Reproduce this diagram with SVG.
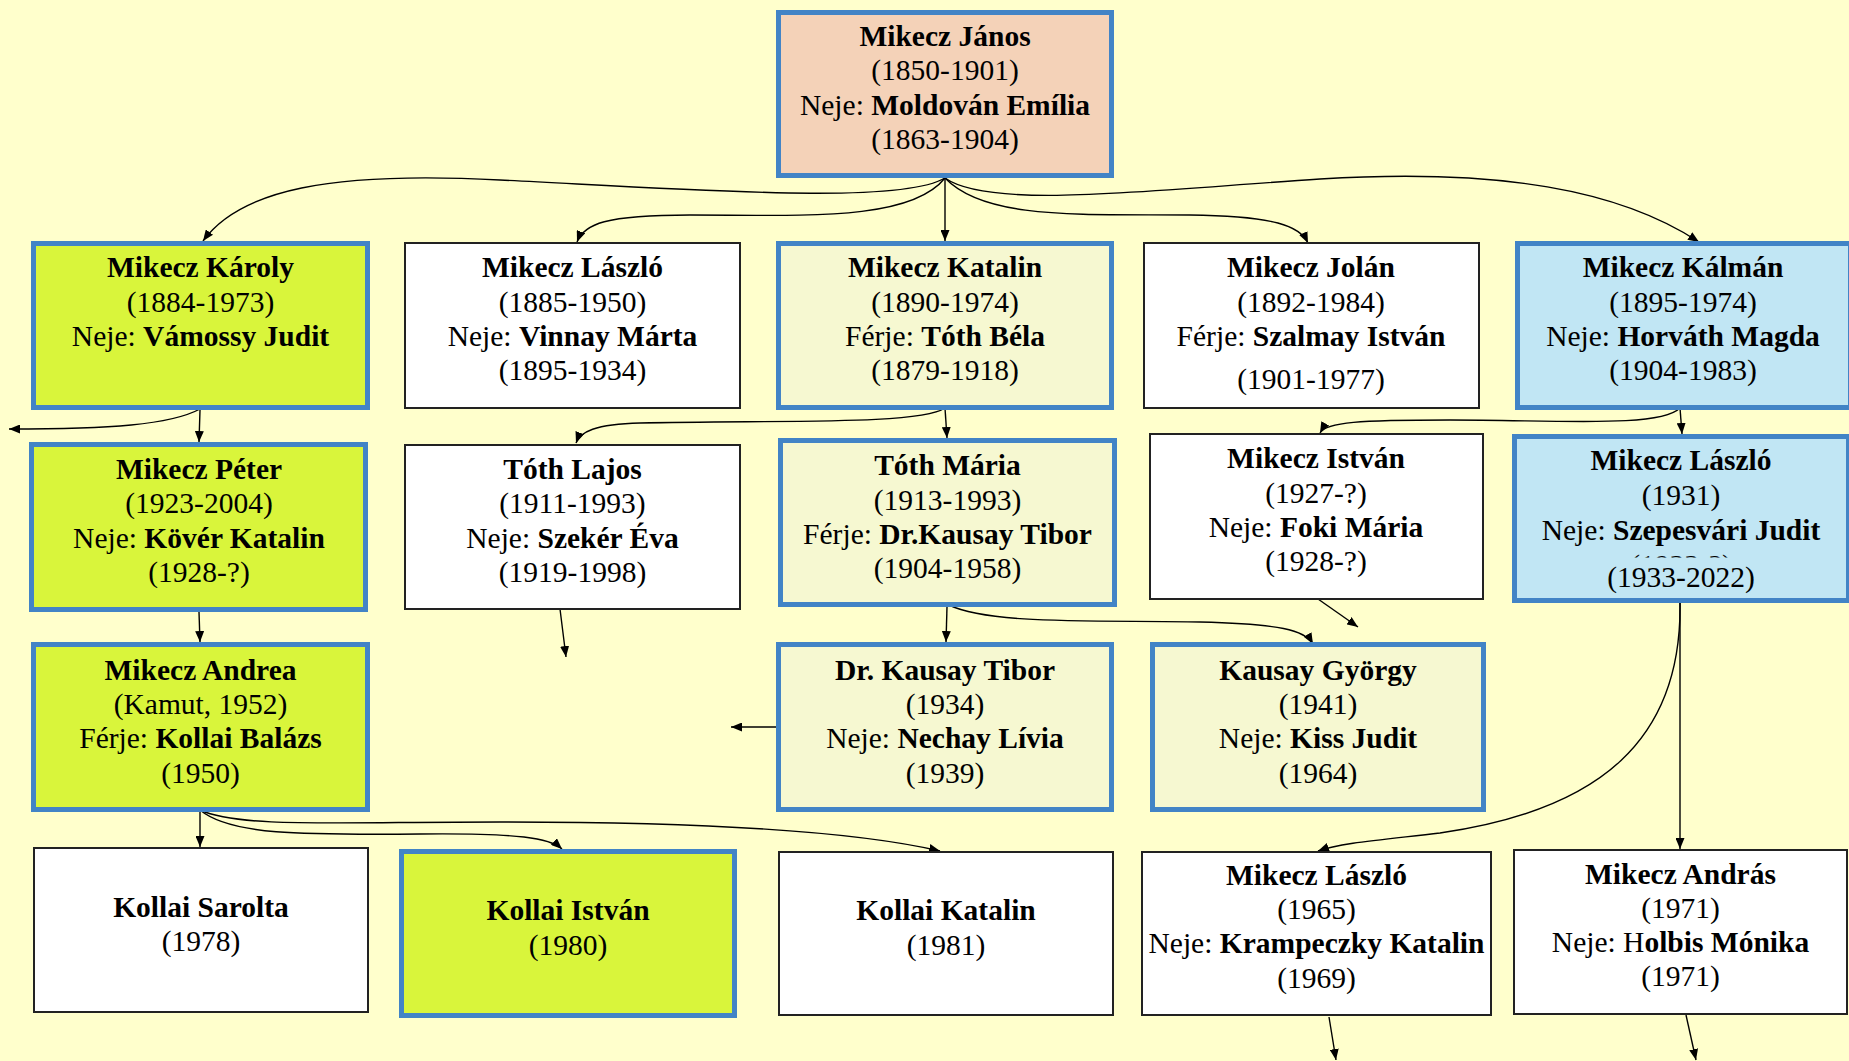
<svg xmlns="http://www.w3.org/2000/svg" width="1849" height="1061" viewBox="0 0 1849 1061">
<style>
.t{font-family:"Liberation Serif","Times New Roman",serif;font-size:29.5px;text-anchor:middle;fill:#000}
.b{font-weight:bold}
.blue{stroke:#4284c6;stroke-width:5}
.thin{fill:#fff;stroke:#222;stroke-width:2}
.green{fill:#d9f53b}
.pale{fill:#f6f8d1}
.sky{fill:#c1e6f4}
.peach{fill:#f4d2b8}
.e{fill:none;stroke:#000;stroke-width:1.4;marker-end:url(#ah)}
</style>
<defs>
<marker id="ah" markerUnits="userSpaceOnUse" markerWidth="12" markerHeight="9" refX="11" refY="4.5" orient="auto">
<path d="M0,0 L11,4.5 L0,9 z" fill="#000"/>
</marker>
<clipPath id="cl1"><rect x="1515" y="540" width="330" height="17.5"/></clipPath>
</defs>
<rect width="1849" height="1061" fill="#ffffcc"/>

<g id="connectors">
<path class="e" d="M945,178 C900,205 700,190 500,180 C330,171 240,190 203,241"/>
<path class="e" d="M945,178 C910,222 800,215 690,215 C605,215 584,224 577,242"/>
<path class="e" d="M945,178 L945,241"/>
<path class="e" d="M945,178 C985,220 1080,214 1190,215 C1275,216 1300,226 1308,243"/>
<path class="e" d="M945,178 C990,210 1150,190 1320,179 C1500,168 1620,190 1699,242"/>
<path class="e" d="M200,410 L199,442"/>
<path class="e" d="M200,409 C170,425 110,429 9,429"/>
<path class="e" d="M945,408 C920,425 780,420 640,423 C595,424 580,432 576,443"/>
<path class="e" d="M945,408 L947,438"/>
<path class="e" d="M1680,408 L1682,434"/>
<path class="e" d="M1680,408 C1660,428 1560,420 1450,420 C1360,420 1326,422 1320,433"/>
<path class="e" d="M199,612 L200,642"/>
<path class="e" d="M560,609 L566,657"/>
<path class="e" d="M947,607 L946,642"/>
<path class="e" d="M949,605 C990,625 1100,620 1200,622 C1280,624 1305,630 1313,644"/>
<path class="e" d="M1318,599 L1358,627"/>
<path class="e" d="M776,727 L731,727"/>
<path class="e" d="M1680,603 L1680,849"/>
<path class="e" d="M1680,603 C1682,740 1600,810 1440,833 C1380,840 1340,843 1318,851"/>
<path class="e" d="M200,812 L200,847"/>
<path class="e" d="M200,810 C230,835 300,835 420,834 C520,833 550,838 562,849"/>
<path class="e" d="M200,810 C240,828 330,822 500,822 C700,822 850,830 940,851"/>
<path class="e" d="M1329,1017 L1336,1060"/>
<path class="e" d="M1686,1015 L1696,1060"/>
</g>

<g id="janos">
<rect class="peach blue" x="778.5" y="12.5" width="333" height="163"/>
<text class="t" x="945" y="46"><tspan class="b">Mikecz János</tspan></text>
<text class="t" x="945" y="80">(1850-1901)</text>
<text class="t" x="945" y="115">Neje: <tspan class="b">Moldován Emília</tspan></text>
<text class="t" x="945" y="149">(1863-1904)</text>
</g>

<g id="karoly">
<rect class="green blue" x="33.5" y="243.5" width="334" height="164"/>
<text class="t" x="200.5" y="277"><tspan class="b">Mikecz Károly</tspan></text>
<text class="t" x="200.5" y="312">(1884-1973)</text>
<text class="t" x="200.5" y="346">Neje: <tspan class="b">Vámossy Judit</tspan></text>
</g>

<g id="laszlo1">
<rect class="thin" x="405" y="243" width="335" height="165"/>
<text class="t" x="572.5" y="277"><tspan class="b">Mikecz László</tspan></text>
<text class="t" x="572.5" y="312">(1885-1950)</text>
<text class="t" x="572.5" y="346">Neje: <tspan class="b">Vinnay Márta</tspan></text>
<text class="t" x="572.5" y="380">(1895-1934)</text>
</g>

<g id="katalin">
<rect class="pale blue" x="778.5" y="243.5" width="333" height="164"/>
<text class="t" x="945" y="277"><tspan class="b">Mikecz Katalin</tspan></text>
<text class="t" x="945" y="312">(1890-1974)</text>
<text class="t" x="945" y="346">Férje: <tspan class="b">Tóth Béla</tspan></text>
<text class="t" x="945" y="380">(1879-1918)</text>
</g>

<g id="jolan">
<rect class="thin" x="1144" y="243" width="335" height="165"/>
<text class="t" x="1311" y="277"><tspan class="b">Mikecz Jolán</tspan></text>
<text class="t" x="1311" y="312">(1892-1984)</text>
<text class="t" x="1311" y="346">Férje: <tspan class="b">Szalmay István</tspan></text>
<text class="t" x="1311" y="389">(1901-1977)</text>
</g>

<g id="kalman">
<rect class="sky blue" x="1517.5" y="243.5" width="333" height="164"/>
<text class="t" x="1683" y="277"><tspan class="b">Mikecz Kálmán</tspan></text>
<text class="t" x="1683" y="312">(1895-1974)</text>
<text class="t" x="1683" y="346">Neje: <tspan class="b">Horváth Magda</tspan></text>
<text class="t" x="1683" y="380">(1904-1983)</text>
</g>

<g id="peter">
<rect class="green blue" x="31.5" y="444.5" width="334" height="165"/>
<text class="t" x="199" y="479"><tspan class="b">Mikecz Péter</tspan></text>
<text class="t" x="199" y="513">(1923-2004)</text>
<text class="t" x="199" y="548">Neje: <tspan class="b">Kövér Katalin</tspan></text>
<text class="t" x="199" y="582">(1928-?)</text>
</g>

<g id="tothlajos">
<rect class="thin" x="405" y="445" width="335" height="164"/>
<text class="t" x="572.5" y="479"><tspan class="b">Tóth Lajos</tspan></text>
<text class="t" x="572.5" y="513">(1911-1993)</text>
<text class="t" x="572.5" y="548">Neje: <tspan class="b">Szekér Éva</tspan></text>
<text class="t" x="572.5" y="582">(1919-1998)</text>
</g>

<g id="tothmaria">
<rect class="pale blue" x="780.5" y="440.5" width="334" height="164"/>
<text class="t" x="947.5" y="475"><tspan class="b">Tóth Mária</tspan></text>
<text class="t" x="947.5" y="510">(1913-1993)</text>
<text class="t" x="947.5" y="544">Férje: <tspan class="b">Dr.Kausay Tibor</tspan></text>
<text class="t" x="947.5" y="578">(1904-1958)</text>
</g>

<g id="istvan">
<rect class="thin" x="1150" y="434" width="333" height="165"/>
<text class="t" x="1316" y="468"><tspan class="b">Mikecz István</tspan></text>
<text class="t" x="1316" y="503">(1927-?)</text>
<text class="t" x="1316" y="537">Neje: <tspan class="b">Foki Mária</tspan></text>
<text class="t" x="1316" y="571">(1928-?)</text>
</g>

<g id="laszlo1931">
<rect class="sky blue" x="1514.5" y="436.5" width="334" height="164"/>
<text class="t" x="1681" y="470"><tspan class="b">Mikecz László</tspan></text>
<text class="t" x="1681" y="505">(1931)</text>
<text class="t" x="1681" y="540">Neje: <tspan class="b">Szepesvári Judit</tspan></text>
<text class="t" x="1681" y="575" clip-path="url(#cl1)">(1933-?)</text>
<text class="t" x="1681" y="587">(1933-2022)</text>
</g>

<g id="andrea">
<rect class="green blue" x="33.5" y="644.5" width="334" height="165"/>
<text class="t" x="200.5" y="680"><tspan class="b">Mikecz Andrea</tspan></text>
<text class="t" x="200.5" y="714">(Kamut, 1952)</text>
<text class="t" x="200.5" y="748">Férje: <tspan class="b">Kollai Balázs</tspan></text>
<text class="t" x="200.5" y="783">(1950)</text>
</g>

<g id="kausaytibor">
<rect class="pale blue" x="778.5" y="644.5" width="333" height="165"/>
<text class="t" x="945" y="680"><tspan class="b">Dr. Kausay Tibor</tspan></text>
<text class="t" x="945" y="714">(1934)</text>
<text class="t" x="945" y="748">Neje: <tspan class="b">Nechay Lívia</tspan></text>
<text class="t" x="945" y="783">(1939)</text>
</g>

<g id="kausaygyorgy">
<rect class="pale blue" x="1152.5" y="644.5" width="331" height="165"/>
<text class="t" x="1318" y="680"><tspan class="b">Kausay György</tspan></text>
<text class="t" x="1318" y="714">(1941)</text>
<text class="t" x="1318" y="748">Neje: <tspan class="b">Kiss Judit</tspan></text>
<text class="t" x="1318" y="783">(1964)</text>
</g>

<g id="sarolta">
<rect class="thin" x="34" y="848" width="334" height="164"/>
<text class="t" x="201" y="917"><tspan class="b">Kollai Sarolta</tspan></text>
<text class="t" x="201" y="951">(1978)</text>
</g>

<g id="kollaiistvan">
<rect class="green blue" x="401.5" y="851.5" width="333" height="164"/>
<text class="t" x="568" y="920"><tspan class="b">Kollai István</tspan></text>
<text class="t" x="568" y="955">(1980)</text>
</g>

<g id="kollaikatalin">
<rect class="thin" x="779" y="852" width="334" height="163"/>
<text class="t" x="946" y="920"><tspan class="b">Kollai Katalin</tspan></text>
<text class="t" x="946" y="955">(1981)</text>
</g>

<g id="laszlo1965">
<rect class="thin" x="1142" y="852" width="349" height="163"/>
<text class="t" x="1316.5" y="885"><tspan class="b">Mikecz László</tspan></text>
<text class="t" x="1316.5" y="919">(1965)</text>
<text class="t" x="1316.5" y="953">Neje: <tspan class="b">Krampeczky Katalin</tspan></text>
<text class="t" x="1316.5" y="988">(1969)</text>
</g>

<g id="andras">
<rect class="thin" x="1514" y="850" width="333" height="164"/>
<text class="t" x="1680.5" y="884"><tspan class="b">Mikecz András</tspan></text>
<text class="t" x="1680.5" y="918">(1971)</text>
<text class="t" x="1680.5" y="952">Neje: H<tspan class="b">olbis Mónika</tspan></text>
<text class="t" x="1680.5" y="986">(1971)</text>
</g>
</svg>
